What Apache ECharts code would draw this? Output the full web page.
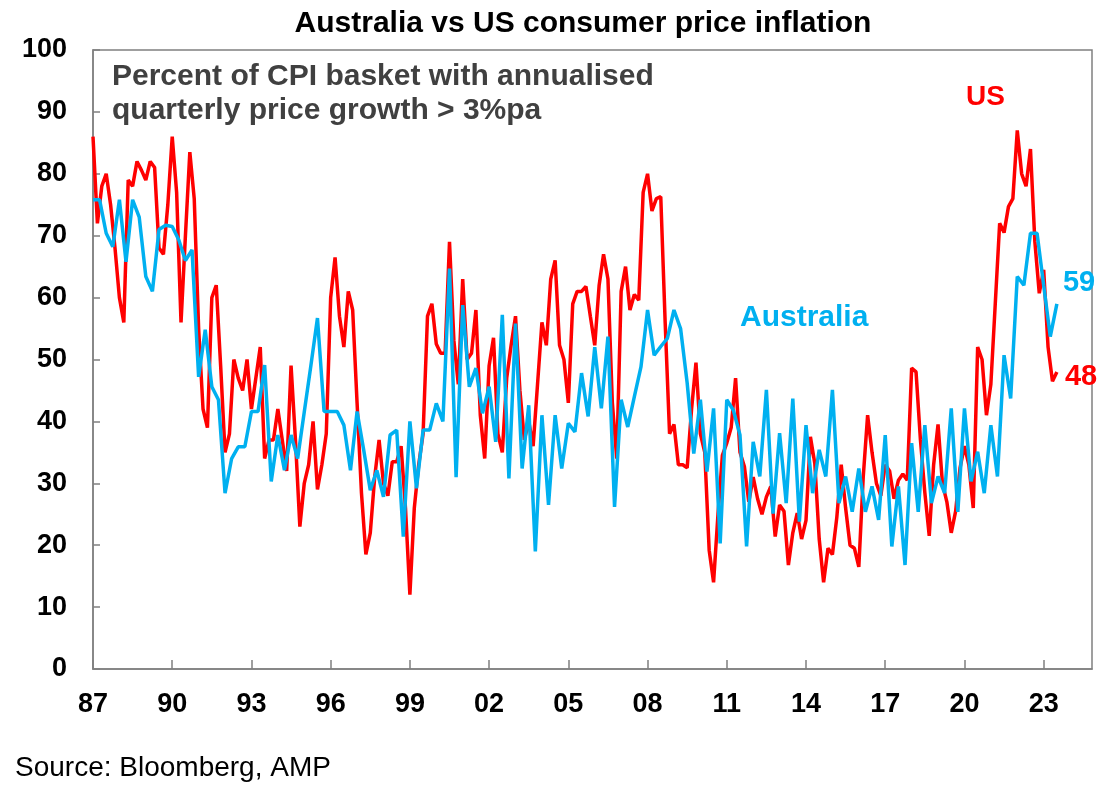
<!DOCTYPE html>
<html>
<head>
<meta charset="utf-8">
<title>Australia vs US consumer price inflation</title>
<script src="https://cdn.jsdelivr.net/npm/echarts@6/dist/echarts.min.js"></script>
<style>
  html, body {margin: 0; padding: 0; background: #fff;}
  #chart {width: 1115px; height: 800px;}
</style>
</head>
<body>
<div id="chart"></div>
<script>
// Percent of CPI basket with annualised quarterly price growth > 3%pa
const startYear = 1987;

// Australia, quarterly from 1987 Q1
const australia = [
  75.8, 75.8, 70.4, 68.2, 75.8, 65.8, 75.8, 73, 63.4, 61,
  71, 71.7, 71.5, 69.3, 66, 67.7, 47.2, 54.8, 45.6, 43.5,
  28.4, 34, 35.9, 35.9, 41.6, 41.6, 49.1, 30.3, 37.8, 32.1,
  37.8, 34, 41.5, 49, 56.7, 41.6, 41.6, 41.6, 39.4, 32.1,
  41.6, 35.4, 28.9, 32.1, 27.8, 37.8, 38.6, 21.4, 40, 29.2,
  38.6, 38.6, 42.9, 40, 64.7, 31, 58.8, 45.6, 48.6, 41.3,
  45.6, 36.7, 57.2, 30.8, 55.8, 32.4, 42.6, 19, 41, 26.5,
  41, 32.4, 39.7, 38.3, 47.8, 40.8, 52, 42.1, 53.7, 26.2,
  43.5, 39.1, 44, 48.8, 58, 50.7, 52.1, 53.4, 58, 55,
  46.2, 34.8, 43.5, 31.9, 42.1, 20.3, 43.5, 41.8, 37.8, 19.8,
  36.7, 31.1, 45.1, 25.1, 38.1, 26.8, 43.7, 23.8, 39.4, 28.4,
  35.4, 31.1, 45.1, 26.8, 31.1, 25.4, 32.4, 25.4, 29.5, 24.1,
  37.8, 19.8, 29.5, 16.8, 36.5, 25.4, 39.4, 26.8, 31.1, 28.4,
  42.1, 25.4, 42.1, 30.3, 35.1, 28.4, 39.4, 31.1, 50.7, 43.7,
  63.4, 62, 70.4, 70.4, 62, 53.7, 59
];

// US, every second month from Jan 1987
const us = [
  86, 72, 78, 80, 75, 68, 60, 56, 79, 78,
  82, 80.6, 79, 82, 81, 68, 67, 75, 86, 77,
  56, 70, 83.5, 76, 55, 42, 39, 60, 62, 49,
  35, 38, 50, 47, 45, 50, 42, 47, 52, 34,
  37, 37, 42, 37, 32, 49, 37, 23, 30, 33,
  40, 29, 33, 38, 60, 66.5, 57, 52, 61, 58,
  43, 28.4, 18.5, 22, 31, 37, 30, 28, 33.5, 33.5,
  36, 26, 12, 26, 33, 38, 57, 59, 52.5, 51,
  51, 69, 53, 46, 63, 50, 51, 58, 41, 34,
  49, 53.5, 38, 35, 47, 52.3, 57, 45, 37, 40,
  36, 46, 56, 52.3, 63, 66, 52.3, 50, 43, 59,
  61, 61, 61.8, 57, 52.3, 62, 67, 63, 43, 34,
  61, 65, 58, 60.5, 59.6, 77, 80, 74, 76, 76.3,
  56, 38, 39.5, 33, 33, 32.5, 42, 49.5, 38, 35,
  19.2, 14, 25, 34.5, 36.5, 39, 47, 35, 32.7, 27,
  31, 27.5, 25, 27.8, 29.5, 21.4, 26.5, 25.5, 16.8, 22,
  25.2, 21, 24, 37.5, 33.2, 21, 14, 19.5, 18.5, 24.5,
  33, 26, 20, 19.5, 16.5, 31, 41, 35, 30, 28,
  33, 32, 27.5, 30.5, 31.5, 30.5, 48.6, 48, 37, 28.5,
  21.5, 33, 39.5, 30, 27, 22, 25.5, 32.5, 36, 33,
  26, 52, 50, 41, 46, 59, 72, 70.5, 74.7, 76,
  87, 80, 78, 84, 69, 60.7, 64.5, 52, 46.5, 48
];

const yearTicks = [1987, 1990, 1993, 1996, 1999, 2002, 2005, 2008, 2011, 2014, 2017, 2020, 2023];

const RED = '#ff0000';
const BLUE = '#00b0f0';
const GREY = '#808080';
const FONT = 'Liberation Sans, Arial, sans-serif';

const ausData = australia.map((v, i) => [startYear + i / 4, v]);
const usData = us.map((v, i) => [startYear + i / 6, v]);

const chart = echarts.init(document.getElementById('chart'));
chart.setOption({
  animation: false,
  backgroundColor: '#fff',
  textStyle: {fontFamily: FONT},
  grid: {
    left: 93, right: 23, top: 50, bottom: 131,
    show: true, borderColor: GREY, borderWidth: 1.5
  },
  xAxis: {
    type: 'value',
    min: startYear,
    max: 2024.83,
    axisLine: {lineStyle: {color: GREY, width: 1.5}},
    axisTick: {inside: true, length: 9, customValues: yearTicks, lineStyle: {color: GREY, width: 1.5}},
    axisLabel: {
      customValues: yearTicks,
      margin: 22,
      fontSize: 27, fontWeight: 'bold', color: '#000', fontFamily: FONT,
      formatter: v => String(Math.round(v) % 100).padStart(2, '0')
    },
    splitLine: {show: false}
  },
  yAxis: {
    type: 'value',
    min: 0, max: 100, interval: 10,
    axisLine: {show: true, lineStyle: {color: GREY, width: 1.5}},
    axisTick: {show: true, inside: true, length: 7, lineStyle: {color: GREY, width: 1.5}},
    axisLabel: {margin: 26, fontSize: 27, fontWeight: 'bold', color: '#000', fontFamily: FONT},
    splitLine: {show: false}
  },
  series: [
    {
      name: 'US',
      type: 'line',
      data: usData,
      showSymbol: false,
      lineStyle: {color: RED, width: 3.5},
      itemStyle: {color: RED},
      endLabel: {
        show: true,
        formatter: p => Math.round(p.value[1]),
        color: RED, fontSize: 29, fontWeight: 'bold', fontFamily: FONT,
        offset: [0, 5]
      }
    },
    {
      name: 'Australia',
      type: 'line',
      data: ausData,
      showSymbol: false,
      lineStyle: {color: BLUE, width: 3.5},
      itemStyle: {color: BLUE},
      endLabel: {
        show: true,
        formatter: p => Math.round(p.value[1]),
        color: BLUE, fontSize: 29, fontWeight: 'bold', fontFamily: FONT,
        offset: [-2, -21]
      }
    }
  ],
  graphic: [
    {
      type: 'text', x: 583, y: 24,
      style: {
        text: 'Australia vs US consumer price inflation',
        fill: '#000', font: 'bold 30px ' + FONT,
        textAlign: 'center', textVerticalAlign: 'middle'
      }
    },
    {
      type: 'text', x: 112, y: 60,
      style: {
        text: 'Percent of CPI basket with annualised\nquarterly price growth > 3%pa',
        fill: '#404040', font: 'bold 30px ' + FONT, lineHeight: 34
      }
    },
    {
      type: 'text', x: 966, y: 97,
      style: {text: 'US', fill: RED, font: 'bold 28px ' + FONT, textVerticalAlign: 'middle'}
    },
    {
      type: 'text', x: 740, y: 318,
      style: {text: 'Australia', fill: BLUE, font: 'bold 30px ' + FONT, textVerticalAlign: 'middle'}
    },
    {
      type: 'text', x: 15, y: 768,
      style: {text: 'Source: Bloomberg, AMP', fill: '#000', font: '28px ' + FONT, textVerticalAlign: 'middle'}
    }
  ]
});
</script>
</body>
</html>
